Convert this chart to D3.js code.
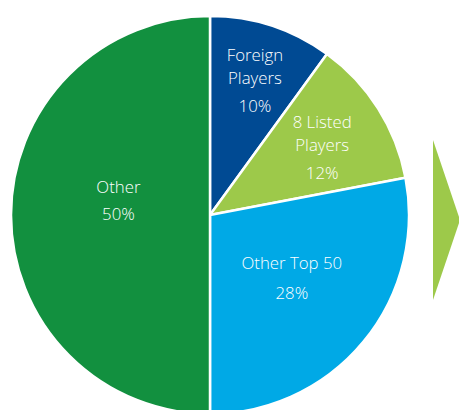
<!DOCTYPE html>
<html><head><meta charset="utf-8">
<script src="https://cdn.jsdelivr.net/npm/d3@7"></script>
<style>html,body{margin:0;padding:0;background:#fff;overflow:hidden}</style>
</head><body>
<svg id="c" width="459" height="410"></svg>
<script>
const categories = ["Foreign Players", "8 Listed Players", "Other Top 50", "Other"];
const labelLines = [["Foreign", "Players"], ["8 Listed", "Players"], ["Other Top 50"], ["Other"]];
const values = [10, 12, 28, 50];
const colors = ["#004A93", "#9DC94A", "#00A9E6", "#12903F"];
// label placement (layout only): radius and angle shift in degrees
const labelRadius = [136, 128, 107, 92];
const labelShift = [1.3, 3.6, 0.5, 5.3];

const svg = d3.select("#c");
const cx = 210, cy = 215, R = 199;
const g = svg.append("g").attr("transform", `translate(${cx},${cy})`);

const pie = d3.pie().sort(null).value(d => d.v);
const data = pie(values.map((v, i) => ({v, i})));
const arc = d3.arc().innerRadius(0).outerRadius(R);

g.selectAll("path.slice").data(data).join("path")
  .attr("class", "slice")
  .attr("d", arc)
  .attr("fill", d => colors[d.data.i])
  .attr("stroke", "#fff")
  .attr("stroke-width", 2.5)
  .attr("stroke-linejoin", "round");

data.forEach(d => {
  const i = d.data.i;
  const a = (d.startAngle + d.endAngle) / 2 + labelShift[i] * Math.PI / 180;
  const x = labelRadius[i] * Math.sin(a), y = -labelRadius[i] * Math.cos(a);
  const lines = labelLines[i].concat([values[i] + "%"]);
  const gaps = lines.length === 3 ? [0, 23, 51] : (i === 2 ? [0, 30] : [0, 27]);
  const total = gaps[gaps.length - 1];
  const t = g.append("text")
    .attr("text-anchor", "middle")
    .attr("font-family", "'Open Sans', sans-serif")
    .attr("font-weight", 300)
    .attr("font-size", 16.8)
    .attr("fill", "#fff");
  lines.forEach((ln, k) => {
    t.append("tspan").attr("x", x).attr("y", y - total / 2 + gaps[k]).text(ln);
  });
});

// arrow (decorative)
svg.append("path")
  .attr("d", "M433,140 L460,220 L433,300 Z")
  .attr("fill", "#9DC94A");
</script>
</body></html>
